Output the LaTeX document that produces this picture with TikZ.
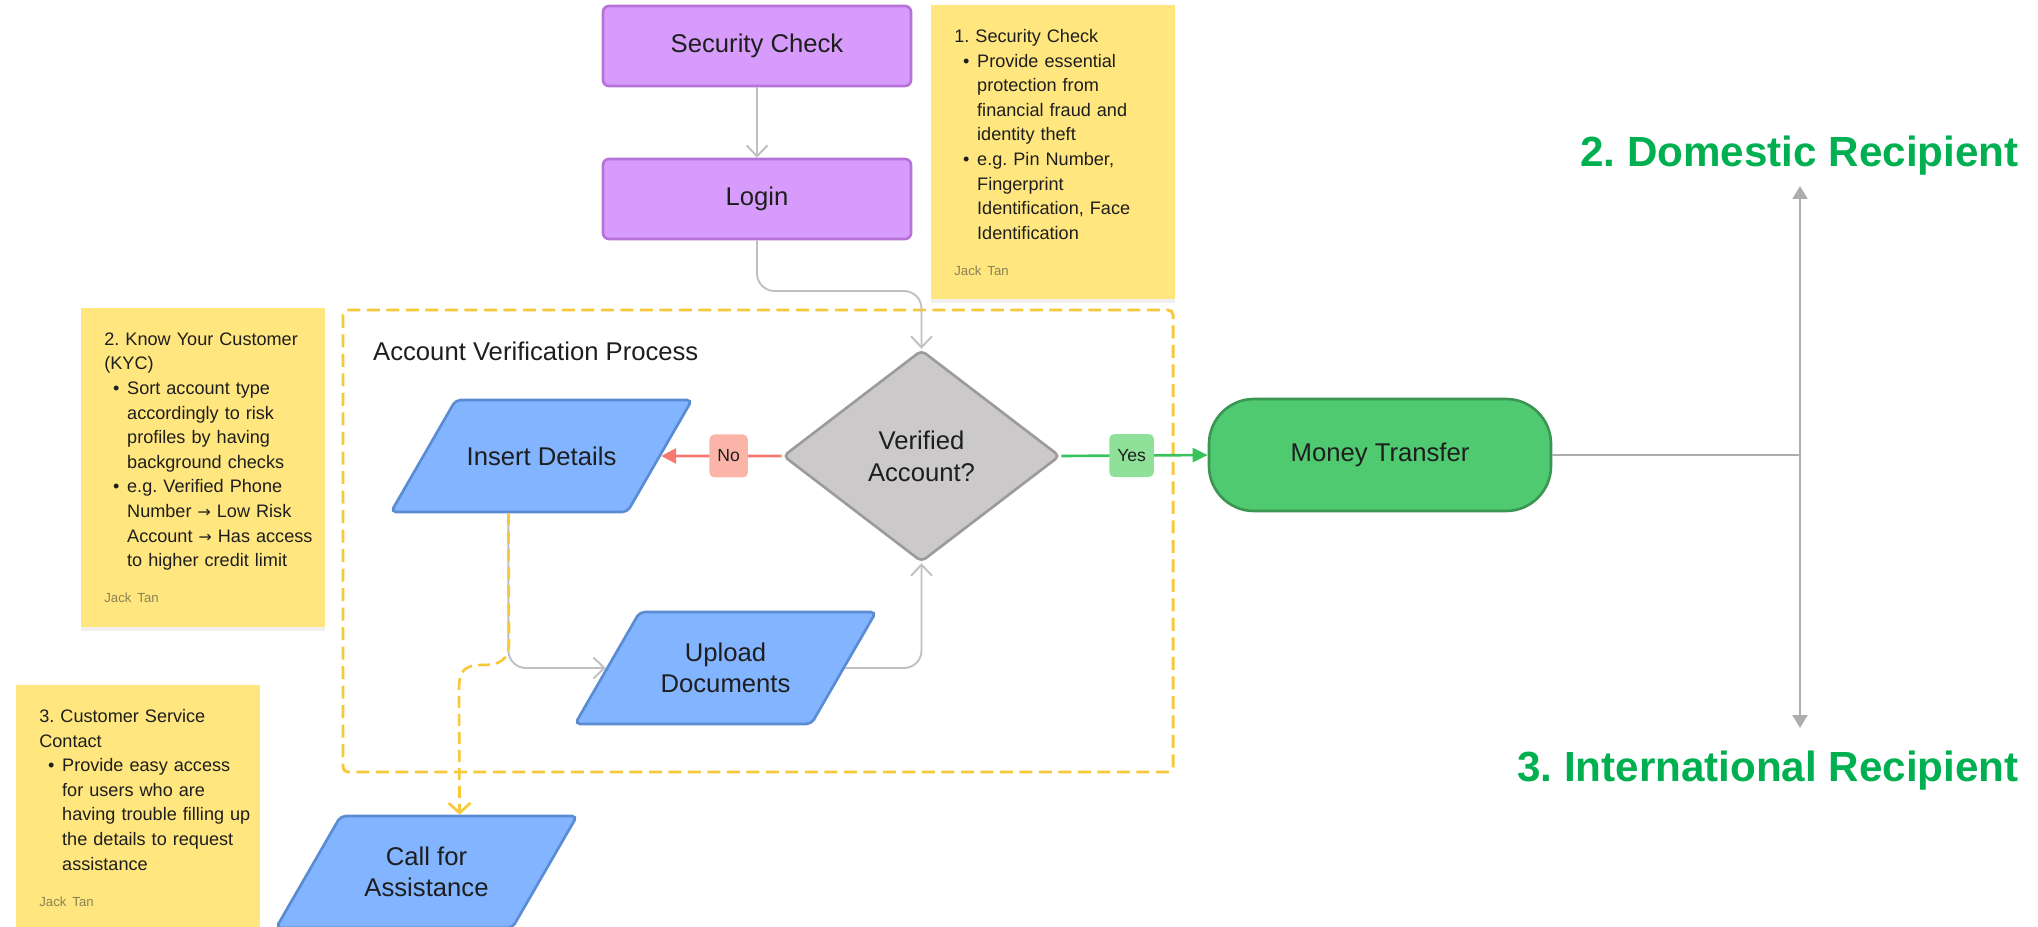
\documentclass[tikz,border=0pt]{standalone}
\usepackage{fontspec}
\setmainfont{Liberation Sans}
\newfontfamily\arrowfont{DejaVu Sans}
\usetikzlibrary{shapes.geometric, arrows.meta, shadows}
\frenchspacing

\definecolor{purplefill}{HTML}{D79CFB}
\definecolor{purpleline}{HTML}{B672D8}
\definecolor{bluefill}{HTML}{82B4FF}
\definecolor{blueline}{HTML}{5A8CD4}
\definecolor{diafill}{HTML}{CBC9CA}
\definecolor{dialine}{HTML}{9C9A9B}
\definecolor{greenfill}{HTML}{4FCA70}
\definecolor{greenline}{HTML}{3A9652}
\definecolor{notefill}{HTML}{FFE67E}
\definecolor{framecol}{HTML}{F7C93A}
\definecolor{nofill}{HTML}{FBB5A8}
\definecolor{noline}{HTML}{F47A6E}
\definecolor{yesfill}{HTML}{8FE19A}
\definecolor{yesline}{HTML}{38C25C}
\definecolor{recgreen}{HTML}{00B050}
\definecolor{flowgray}{HTML}{C0C0C0}
\definecolor{branchgray}{HTML}{ADADAD}
\definecolor{textdark}{HTML}{1E1E1E}
\definecolor{signgray}{HTML}{8A8256}

% lines inside the sticky notes (kept unbroken)
\newcommand{\nline}[1]{\mbox{#1}}
\newcommand{\bitem}[1]{\hspace*{5pt}\makebox[8pt][l]{\textbullet}\mbox{#1}}
\newcommand{\bcont}[1]{\hspace*{13pt}\mbox{#1}}
\newcommand{\sign}{\\[6.5pt]{\fontsize{7.5}{9}\selectfont\color{signgray}Jack Tan}}
\newcommand{\rarr}{{\arrowfont\fontsize{9}{14}\selectfont →}}
% fixed body for the slanted data boxes
\newcommand{\databody}[1]{\parbox[c][63.7pt][c]{97.7pt}{\centering #1}}

\tikzset{
    box/.style={rectangle, rounded corners=1.2mm, draw=purpleline, fill=purplefill,
        line width=1.5pt, minimum width=61.6mm, minimum height=16mm,
        text=textdark, font=\fontsize{14.6}{18}\selectfont},
    datain/.style={trapezium, trapezium left angle=60, trapezium right angle=120,
        rounded corners=1mm, draw=blueline, fill=bluefill, line width=1.5pt, inner sep=0pt,
        text=textdark, font=\fontsize{14.6}{17.8}\selectfont},
    decision/.style={diamond, draw=dialine, fill=diafill, line width=1.5pt,
        rounded corners=1mm, minimum width=55.4mm, minimum height=42.4mm, inner sep=0pt,
        align=center, text=textdark, font=\fontsize{14.6}{18.4}\selectfont},
    note/.style={rectangle, fill=notefill, anchor=north west, align=left,
        text width=39.6mm, inner xsep=4.6mm, text=textdark,
        font=\fontsize{10.3}{14}\selectfont,
        drop shadow={shadow xshift=0mm, shadow yshift=-0.7mm, opacity=0.12}},
    tag/.style={rectangle, rounded corners=1mm, minimum height=8.6mm, inner xsep=1.6mm,
        text=textdark, font=\fontsize{10}{12}\selectfont},
    flow/.style={draw=flowgray, line width=1.1pt, rounded corners=3.5mm,
        -{Straight Barb[length=2.2mm, width=4.2mm]}},
    helpline/.style={draw=framecol, line width=1.5pt, dash pattern=on 2.4mm off 1.2mm,
        -{Straight Barb[length=2mm, width=4.4mm]}},
    recipient/.style={anchor=east, inner sep=0pt, text=recgreen,
        font=\fontsize{24}{28}\bfseries\selectfont}
}

\begin{document}
\begin{tikzpicture}[x=0.2mm, y=-0.2mm]
    \useasboundingbox (0,0) rectangle (2038,927);

    % Sticky notes (left to right)
    \node[note, minimum height=58.8mm] (secnote) at (931,5) {\nline{1. Security Check}\\
        \bitem{Provide essential}\\
        \bcont{protection from}\\
        \bcont{financial fraud and}\\
        \bcont{identity theft}\\
        \bitem{e.g. Pin Number,}\\
        \bcont{Fingerprint}\\
        \bcont{Identification, Face}\\
        \bcont{Identification}\sign};
    \node[note, minimum height=63.8mm] (kycnote) at (81,308) {\nline{2. Know Your Customer}\\
        \nline{(KYC)}\\
        \bitem{Sort account type}\\
        \bcont{accordingly to risk}\\
        \bcont{profiles by having}\\
        \bcont{background checks}\\
        \bitem{e.g. Verified Phone}\\
        \bcont{Number \rarr\ Low Risk}\\
        \bcont{Account \rarr\ Has access}\\
        \bcont{to higher credit limit}\sign};
    \node[note, minimum height=49mm] (csnote) at (16,685) {\nline{3. Customer Service}\\
        \nline{Contact}\\
        \bitem{Provide easy access}\\
        \bcont{for users who are}\\
        \bcont{having trouble filling up}\\
        \bcont{the details to request}\\
        \bcont{assistance}\sign};

    % Account verification frame
    \draw[framecol, line width=1.7pt, dash pattern=on 2.6mm off 1.3mm, rounded corners=1mm]
        (343,310) rectangle (1173,772);
    \node[anchor=west, text=textdark, font=\fontsize{14.6}{18}\selectfont] (avptitle) at (367,351)
        {Account Verification Process};

    % Main steps
    \node[box] (sec) at (757,46) {Security Check};
    \node[box] (login) at (757,199) {Login};
    \node[decision] (verify) at (921.5,456) {Verified\\Account?};
    \node[datain] (insert) at (541.5,456) {\databody{Insert Details}};
    \node[datain] (upload) at (725.5,668) {\databody{Upload\\Documents}};
    \node[datain] (call) at (426.5,872) {\databody{Call for\\Assistance}};
    \node[rectangle, rounded corners=9mm, draw=greenline, fill=greenfill, line width=1.5pt,
        minimum width=68.4mm, minimum height=22.4mm, text=textdark,
        font=\fontsize{14.6}{18}\selectfont] (money) at (1380,455) {Money Transfer};

    % Outcomes of the transfer
    \node[recipient] (domestic) at (2019,156) {2. Domestic Recipient};
    \node[recipient] (intl) at (2019,771) {3. International Recipient};
    \coordinate (split) at (1800,455);
    \coordinate (domtip) at (1800,186);
    \coordinate (intltip) at (1800,728);

    % Connectors
    \draw[flow] (sec) -- (login);
    \coordinate (loginbend) at (757,291);
    \draw[flow] (login.south) -- (loginbend) -| (verify.north);
    \draw[flow] (insert.bottom side) |- (upload.left side);
    \draw[flow] (upload.right side) -| (verify.south);

    % Help path (dashed, on top of the grey line)
    \draw[helpline] (insert.bottom side) -- (509,642)
        .. controls (509,660) and (500,665) .. (482,665)
        .. controls (463,665) and (459,672) .. (459,690) -- (call.top side);

    % No / Yes branches
    \draw[noline, line width=1.5pt, -{Triangle[length=3mm, width=3mm]}] (verify.west) --
        node[tag, fill=nofill, pos=0.44] (nolbl) {No} (insert.east);
    \draw[yesline, line width=1.5pt, -{Triangle[length=3mm, width=2.8mm]}] (verify.east) --
        node[tag, fill=yesfill, pos=0.48] (yeslbl) {Yes} (money.west);

    % Split to recipients
    \draw[branchgray, line width=1.3pt] (money.east) -- (split);
    \draw[branchgray, line width=1.3pt, -{Triangle[length=2.6mm, width=3mm]}] (split) -- (domtip);
    \draw[branchgray, line width=1.3pt, -{Triangle[length=2.6mm, width=3mm]}] (split) -- (intltip);
\end{tikzpicture}
\end{document}
